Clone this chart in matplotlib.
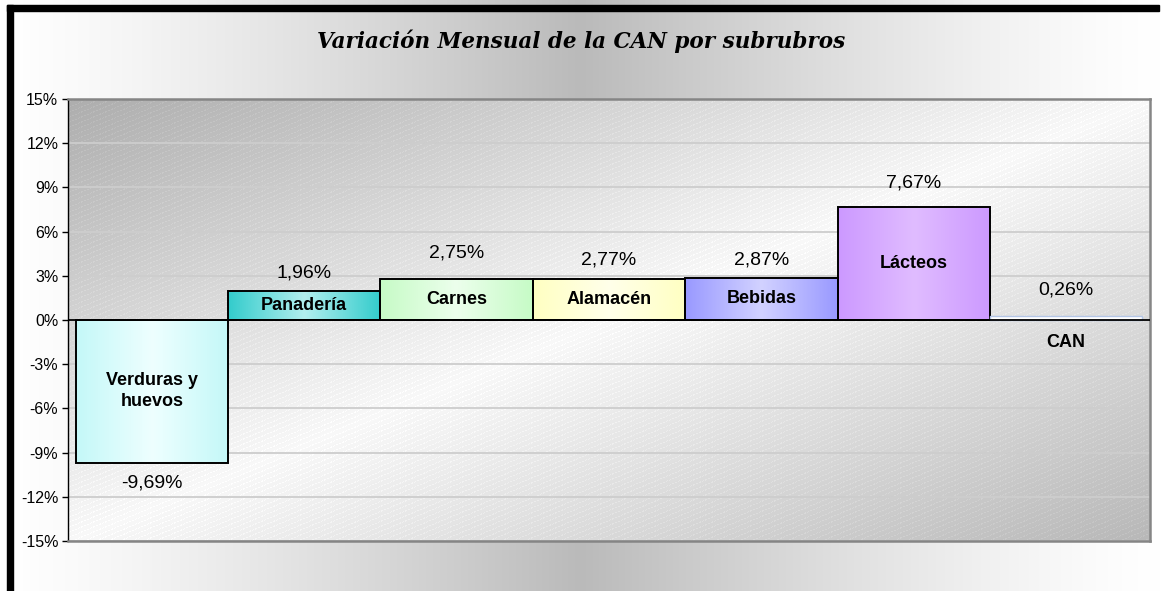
import numpy as np
import matplotlib
matplotlib.use("Agg")
import matplotlib.pyplot as plt
from matplotlib.colors import to_rgb
from matplotlib.patches import Rectangle

# data
categories = ["Verduras y\nhuevos", "Panadería", "Carnes", "Alamacén", "Bebidas", "Lácteos", "CAN"]
values = [-9.69, 1.96, 2.75, 2.77, 2.87, 7.67, 0.26]
y_ticks = [-15, -12, -9, -6, -3, 0, 3, 6, 9, 12, 15]
title = "Variación Mensual de la CAN por subrubros"

# bar colours: (edge of gradient, centre of gradient)
bar_colors = [("#c4f8f8", "#eeffff"), ("#33cccc", "#b2eeee"), ("#c6fbc6", "#ecffec"),
              ("#ffffc2", "#ffffea"), ("#9999ff", "#d2d2ff"), ("#cc99ff", "#e0bcff"),
              ("#ffffff", "#ffffff")]
label_offsets = [20, 18, 26, 19, 18, 24, 26]   # pixels between bar end and value label

W, H = 1161, 591
px0, px1, py0, py1 = 68, 1150, 99, 541   # plot area in pixels

# ---- background image: figure gradient + plot area gradient with fine stripes
xx = np.arange(W)[None, :].repeat(H, 0).astype(float)
yy = np.arange(H)[:, None].repeat(W, 1).astype(float)
u = xx / (W - 1)
g = 1.0 - 0.27 * (1 - np.abs(2 * u - 1)) ** 1.3
inside = (xx >= px0) & (xx <= px1) & (yy >= py0) & (yy <= py1)
pu = (xx - px0) / (px1 - px0)
pv = (yy - py0) / (py1 - py0)
s = (pu + pv) / 2
dark = np.where(s < 0.5, 0.68, 0.72)
pg = 0.975 - (0.975 - dark) * np.abs(2 * s - 1)
stripe = (((yy + 0.42 * xx) / 5.0) % 1 < 0.22) & (((xx * 1.0) / 3.0) % 1 < 0.6)
pg = np.clip(pg + 0.035 * stripe, 0, 1)
g = np.where(inside, pg, g)
img = np.dstack([g, g, g])

fig = plt.figure(figsize=(W / 100, H / 100), dpi=100)
bg = fig.add_axes([0, 0, 1, 1])
bg.imshow(img, aspect="auto", interpolation="nearest")
bg.add_patch(Rectangle((6, 4), 1152, 6, color="black"))
bg.add_patch(Rectangle((6, 4), 6, 600, color="black"))
bg.set_xlim(-0.5, W - 0.5)
bg.set_ylim(H - 0.5, -0.5)
bg.set_axis_off()

fig.text(581 / W, 1 - 41 / H, title, ha="center", va="center",
         fontsize=15.5, fontweight="bold", fontstyle="italic", family="DejaVu Serif")

ax = fig.add_axes([px0 / W, 1 - py1 / H, (px1 - px0) / W, (py1 - py0) / H])
ax.set_facecolor("none")

x = np.arange(len(categories))
rects = ax.bar(x, values, width=1.0, fill=False, edgecolor="black", linewidth=1.4, zorder=3)
rects[-1].set_edgecolor("#b4c6e6")
rects[-1].set_linewidth(1.0)

for r, (c_edge, c_mid) in zip(rects, bar_colors):
    e = np.array(to_rgb(c_edge))
    m = np.array(to_rgb(c_mid))
    t = 1 - np.abs(np.linspace(-1, 1, 200))
    grad = e[None, :] + (m - e)[None, :] * t[:, None]
    y0, y1 = sorted([r.get_y(), r.get_y() + r.get_height()])
    ax.imshow(grad[None, :, :], extent=[r.get_x(), r.get_x() + r.get_width(), y0, y1],
              aspect="auto", interpolation="bilinear", zorder=2)

for i, (cat, v) in enumerate(zip(categories, values)):
    ly = v / 2 if abs(v) > 1 else -1.5
    ax.text(i, ly, cat, ha="center", va="center", fontsize=13, fontweight="bold",
            family="Liberation Sans", linespacing=1.3, zorder=5)
    off = label_offsets[i] if v >= 0 else -label_offsets[i]
    ax.annotate(f"{v:.2f}%".replace(".", ","), (i, v), xytext=(0, off),
                textcoords="offset pixels", ha="center", va="center",
                fontsize=14, family="Liberation Sans", zorder=5)

ax.axhline(0, color="black", linewidth=1.3, zorder=4)
ax.set_xlim(-0.55, len(categories) - 0.45)
ax.set_ylim(-15, 15)
ax.set_yticks(y_ticks)
ax.set_yticklabels([f"{t}%" for t in y_ticks], family="Liberation Sans", fontsize=11.5)
ax.set_xticks([])
ax.yaxis.grid(True, color="#cdcdcd", linewidth=1.3)
ax.set_axisbelow(True)
ax.tick_params(axis="y", direction="out", length=4, width=1, color="black", pad=3)
ax.spines["left"].set_color("black")
ax.spines["left"].set_linewidth(1.0)
for side in ["top", "right", "bottom"]:
    ax.spines[side].set_color("#858585")
    ax.spines[side].set_linewidth(1.8)

fig.savefig("out.png", dpi=100)
